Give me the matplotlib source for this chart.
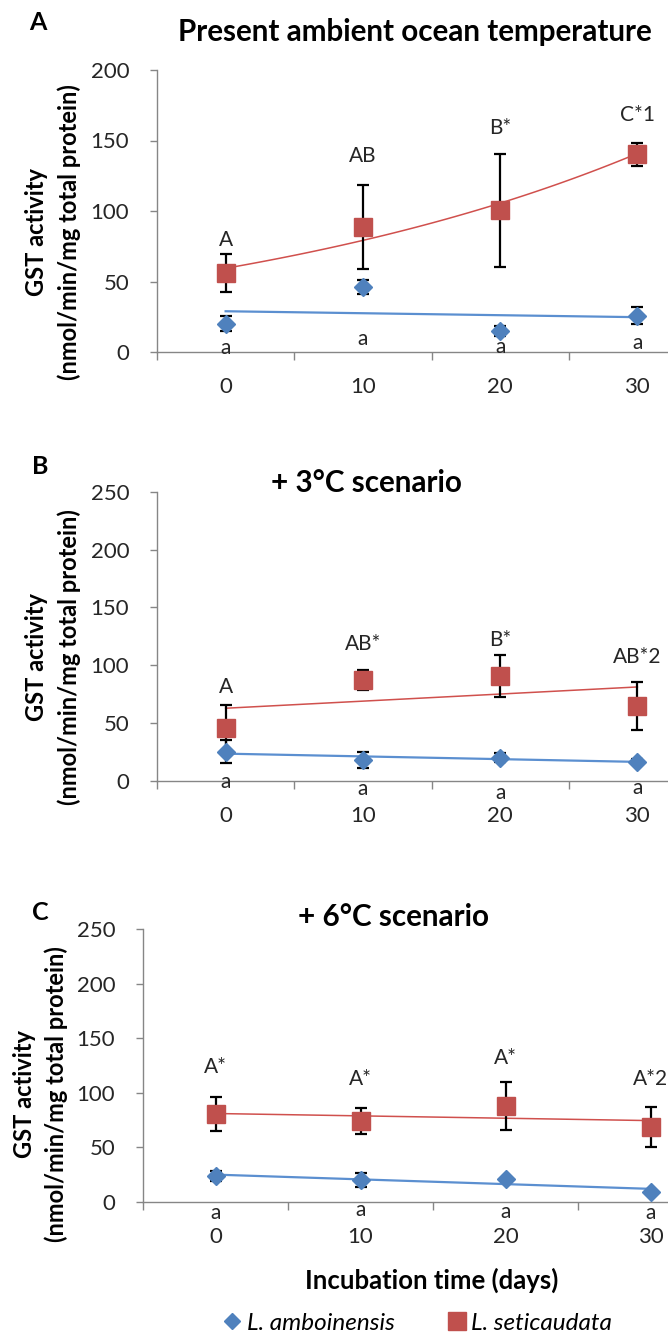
import matplotlib
matplotlib.use("Agg")
import matplotlib.pyplot as plt
from matplotlib.lines import Line2D
import numpy as np

plt.rcParams['font.family'] = ['Lato', 'DejaVu Sans']

# ---- data -------------------------------------------------------------
days = [0, 10, 20, 30]

# Present ambient ocean temperature
amb_A = [20.2, 46.0, 15.2, 25.8]
amb_A_err = [5.0, 5.0, 3.5, 6.0]
set_A = [56.0, 88.6, 100.4, 140.2]
set_A_err = [13.5, 30.0, 40.0, 8.0]

# +3 °C scenario
amb_B = [25.3, 18.1, 20.2, 16.7]
amb_B_err = [10.0, 6.8, 4.0, 2.0]
set_B = [45.5, 87.3, 90.7, 64.8]
set_B_err = [20.0, 9.0, 18.0, 21.0]

# +6 °C scenario
amb_C = [23.8, 20.2, 21.4, 8.9]
amb_C_err = [5.0, 6.0, 1.0, 1.5]
set_C = [80.4, 74.3, 88.3, 68.5]
set_C_err = [15.7, 12.0, 22.0, 18.5]

# significance letters
sig_set_A = ["A", "AB", "B*", "C*1"]
sig_set_B = ["A", "AB*", "B*", "AB*2"]
sig_set_C = ["A*", "A*", "A*", "A*2"]
sig_amb = ["a", "a", "a", "a"]

titles = ["Present ambient ocean temperature", "+ 3°C scenario", "+ 6°C scenario"]
panel_tags = ["A", "B", "C"]
species = ["L. amboinensis", "L. seticaudata"]

# letter placement heights (data units)
sig_set_A_y = [79.7, 139, 159, 168]
sig_amb_A_y = [3.0, 9.4, 3.5, 6.6]
sig_set_B_y = [81.5, 118, 122, 107]
sig_amb_B_y = [-0.6, -7.2, -10.0, -6.3]
sig_set_C_y = [124, 112.5, 131.7, 112.5]
sig_amb_C_y = [-10.4, -7.3, -8.9, -9.8]

# ---- styling ------------------------------------------------------------
W, H = 668, 1334
BLUE = "#4F81BD"
BLUE_TREND = "#5B8FD0"
RED = "#C0504D"
RED_TREND = "#D0504D"
SPINE = "#868686"
TXT = "#262626"

fig = plt.figure(figsize=(W / 100, H / 100), dpi=100)


def px_axes(left, right, top, bottom):
    return fig.add_axes([left / W, 1 - bottom / H, (right - left) / W, (bottom - top) / H])


def trend_linear(y):
    x = np.arange(1, len(y) + 1)
    k, b = np.polyfit(x, y, 1)
    return k * x + b


def trend_exp(y):
    x = np.arange(1, len(y) + 1)
    k, b = np.polyfit(x, np.log(y), 1)
    xs = np.linspace(1, len(y), 100)
    return xs, np.exp(k * xs + b)


def panel(ax, amb, amb_err, st, st_err, ymax, set_trend, sig_set, sig_set_y, sig_amb_y):
    idx = np.arange(len(days))
    # trend lines
    if set_trend == "exp":
        xs, ys = trend_exp(st)
        ax.plot(xs - 1, ys, color=RED_TREND, lw=1.1, zorder=2)
    else:
        ax.plot(idx, trend_linear(st), color=RED_TREND, lw=1.1, zorder=2)
    ax.plot(idx, trend_linear(amb), color=BLUE_TREND, lw=1.6, zorder=2)

    # error bars
    ax.errorbar(idx, amb, yerr=amb_err, fmt="none", ecolor="black",
                elinewidth=1.6, capsize=4.5, capthick=1.6, zorder=3)
    ax.errorbar(idx, st, yerr=st_err, fmt="none", ecolor="black",
                elinewidth=1.6, capsize=4.5, capthick=1.6, zorder=3)
    # markers
    ax.plot(idx, amb, ls="none", marker="D", ms=9, color=BLUE, mec=BLUE, zorder=4)
    ax.plot(idx, st, ls="none", marker="s", ms=13.5, color=RED, mec=RED, zorder=4)

    # letters
    for i in idx:
        ax.text(i, sig_set_y[i], sig_set[i], ha="center", va="center",
                fontsize=15, color=TXT, clip_on=False)
        ax.text(i, sig_amb_y[i], sig_amb[i], ha="center", va="center",
                fontsize=15, color=TXT, clip_on=False)

    ax.set_xlim(-0.5, len(days) - 0.5)
    ax.set_ylim(0, ymax)
    ax.set_yticks(np.arange(0, ymax + 1, 50))
    ax.set_xticks(idx)
    ax.set_xticklabels([str(d) for d in days])
    ax.set_xticks(np.arange(-0.5, len(days) - 0.5, 1), minor=True)
    ax.tick_params(axis="x", which="major", length=0, pad=18, labelsize=16, labelcolor=TXT)
    ax.tick_params(axis="x", which="minor", length=6, width=1, color=SPINE, direction="out")
    ax.tick_params(axis="y", length=5, width=1, color=SPINE, pad=15, labelsize=16, labelcolor=TXT)
    for s in ("top", "right"):
        ax.spines[s].set_visible(False)
    for s in ("left", "bottom"):
        ax.spines[s].set_color(SPINE)
        ax.spines[s].set_linewidth(1)
    ax.patch.set_alpha(0)


axA = px_axes(157, 706, 70, 352)
panel(axA, amb_A, amb_A_err, set_A, set_A_err, 200, "exp", sig_set_A, sig_set_A_y, sig_amb_A_y)
axB = px_axes(157, 706, 491.7, 781)
panel(axB, amb_B, amb_B_err, set_B, set_B_err, 250, "lin", sig_set_B, sig_set_B_y, sig_amb_B_y)
axC = px_axes(143, 723, 929.3, 1202)
panel(axC, amb_C, amb_C_err, set_C, set_C_err, 250, "lin", sig_set_C, sig_set_C_y, sig_amb_C_y)


def ftext(x, y, s, **kw):
    fig.text(x / W, 1 - y / H, s, **kw)


# titles and panel tags
ftext(415, 32, titles[0], ha="center", va="center", fontsize=21.3, fontweight="bold", color="black")
ftext(366, 483, titles[1], ha="center", va="center", fontsize=21.3, fontweight="bold", color="black")
ftext(394, 917, titles[2], ha="center", va="center", fontsize=21.3, fontweight="bold", color="black")
for tag, (x, y) in zip(panel_tags, [(38, 22), (40, 466), (40, 912)]):
    ftext(x, y, tag, ha="center", va="center", fontsize=18, fontweight="bold", color="black")

# y labels
for (x1, x2, yc) in [(36, 69, 232), (37, 69, 657), (24, 56, 1094)]:
    ftext(x1, yc, "GST activity", rotation=90, ha="center", va="center",
          fontsize=17, fontweight="bold", color="black")
    ftext(x2, yc, "(nmol/min/mg total protein)", rotation=90, ha="center", va="center",
          fontsize=17, fontweight="bold", color="black")

# x label
ftext(432, 1280, "Incubation time (days)", ha="center", va="center",
      fontsize=18.5, fontweight="bold", color="black")

# legend
handles = [Line2D([], [], ls="none", marker="D", ms=8, color=BLUE),
           Line2D([], [], ls="none", marker="s", ms=12.5, color=RED)]
fig.legend(handles, species, loc="center", bbox_to_anchor=(418 / W, 1 - 1323 / H),
           ncol=2, frameon=False, handlelength=0.7, handletextpad=0.25, columnspacing=2.2,
           prop={"style": "italic", "size": 17.5})

fig.savefig("out.png", dpi=100)
